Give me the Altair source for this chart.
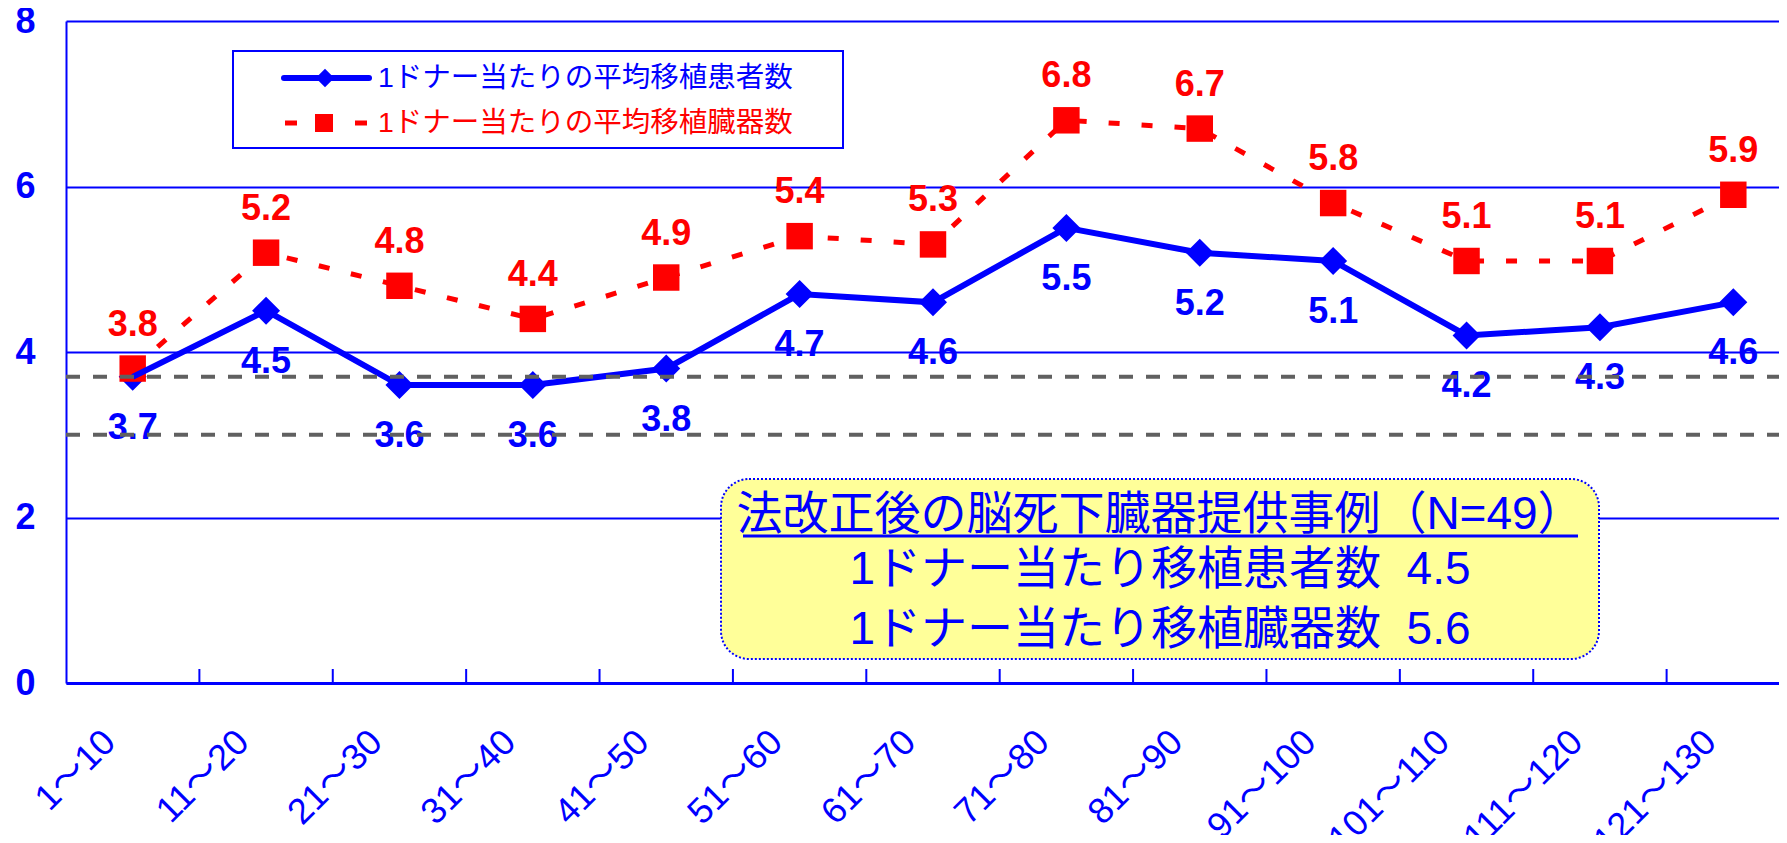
import altair as alt
import pandas as pd

# ---------------- data ----------------
categories = ["1～10", "11～20", "21～30", "31～40", "41～50", "51～60", "61～70",
              "71～80", "81～90", "91～100", "101～110", "111～120", "121～130"]
patients = [3.7, 4.5, 3.6, 3.6, 3.8, 4.7, 4.6, 5.5, 5.2, 5.1, 4.2, 4.3, 4.6]
organs = [3.8, 5.2, 4.8, 4.4, 4.9, 5.4, 5.3, 6.8, 6.7, 5.8, 5.1, 5.1, 5.9]
ref_values = [3.7, 3.0]
y_ticks = [0, 2, 4, 6, 8]
legend_labels = ["1ドナー当たりの平均移植患者数", "1ドナー当たりの平均移植臓器数"]
note_lines = ["法改正後の脳死下臓器提供事例（N=49）",
              "1ドナー当たり移植患者数\u00a0\u00a04.5",
              "1ドナー当たり移植臓器数\u00a0\u00a05.6"]

# ---------------- layout ----------------
W, H = 1713, 662
XR = 1734  # band range (plot is cut at the right edge like the reference)
BLUE = "#0000FF"
RED = "#FF0000"
GRAY = "#606060"
FONT = "Liberation Sans, Noto Sans CJK JP"

df = pd.DataFrame({"cat": categories, "patients": patients, "organs": organs})
ref_df = pd.DataFrame({"ref": ref_values})
tick_df = pd.DataFrame({"cat": categories[1:]})
one = pd.DataFrame({"a": [0]})

xscale = alt.Scale(domain=categories, range=[0, XR], paddingInner=0, paddingOuter=0, type="band")
yscale = alt.Scale(domain=[0, 8], nice=False)

x_axis = alt.Axis(title=None, labelAngle=-45, labelAlign="right", labelBaseline="middle",
                  labelFontSize=36, labelColor=BLUE, labelFont=FONT, ticks=False,
                  labelPadding=53, labelOffset=-23, domainColor=BLUE, domainWidth=3,
                  grid=False, labelOverlap=False, labelLimit=400)
y_axis = alt.Axis(title=None, values=y_ticks, format="d", labelFontSize=36, labelFontWeight="bold",
                  labelColor=BLUE, labelFont="Liberation Sans", ticks=False, labelPadding=31,
                  domainColor=BLUE, domainWidth=2, grid=True, gridColor=BLUE, gridWidth=2)


def X(band=0.5):
    return alt.X("cat:N", sort=categories, scale=xscale, axis=x_axis, bandPosition=band)


def Y(field):
    return alt.Y(field, type="quantitative", scale=yscale, axis=y_axis)


base = alt.Chart(df)

ticks_layer = alt.Chart(tick_df).mark_rule(color=BLUE, strokeWidth=2).encode(
    x=X(0), y=alt.value(H), y2=alt.value(H - 14))

blue_pts = base.mark_point(shape="diamond", filled=True, size=784, color=BLUE, opacity=1).encode(
    x=X(), y=Y("patients"))
red_line = base.mark_line(color=RED, strokeWidth=5, strokeDash=[11, 22]).encode(
    x=X(), y=Y("organs"))
red_pts = base.mark_point(shape="square", filled=True, size=700, color=RED, opacity=1).encode(
    x=X(), y=Y("organs"))
blue_line = base.mark_line(color=BLUE, strokeWidth=6).encode(
    x=X(), y=Y("patients"))

blue_txt = base.mark_text(dy=51, fontSize=36, fontWeight="bold", color=BLUE,
                          font="Liberation Sans").encode(
    x=X(), y=Y("patients"), text=alt.Text("patients:Q", format=".1f"))
red_txt = base.mark_text(dy=-44, fontSize=36, fontWeight="bold", color=RED,
                         font="Liberation Sans").encode(
    x=X(), y=Y("organs"), text=alt.Text("organs:Q", format=".1f"))

ref_rules = alt.Chart(ref_df).mark_rule(color=GRAY, strokeWidth=4, strokeDash=[14, 13]).encode(
    y=Y("ref"), x=alt.value(0), x2=alt.value(W))

# ---------------- legend (drawn) ----------------
leg_box = alt.Chart(one).mark_rect(fill="white", stroke=BLUE, strokeWidth=2).encode(
    x=alt.value(167), x2=alt.value(777), y=alt.value(30), y2=alt.value(127))
leg_l1 = alt.Chart(one).mark_rule(color=BLUE, strokeWidth=6, strokeCap="round").encode(
    x=alt.value(218), x2=alt.value(303), y=alt.value(57))
leg_p1 = alt.Chart(one).mark_point(shape="diamond", filled=True, size=340, color=BLUE, opacity=1).encode(
    x=alt.value(259), y=alt.value(57))
leg_d1 = alt.Chart(one).mark_rule(color=RED, strokeWidth=5).encode(
    x=alt.value(219), x2=alt.value(231), y=alt.value(102))
leg_d2 = alt.Chart(one).mark_rule(color=RED, strokeWidth=5).encode(
    x=alt.value(289), x2=alt.value(301), y=alt.value(102))
leg_p2 = alt.Chart(one).mark_point(shape="square", filled=True, size=324, color=RED, opacity=1).encode(
    x=alt.value(258), y=alt.value(102))
leg_t1 = alt.Chart(one).mark_text(text=legend_labels[0], align="left", baseline="middle",
                                  fontSize=28.5, color=BLUE, font=FONT).encode(
    x=alt.value(312), y=alt.value(57))
leg_t2 = alt.Chart(one).mark_text(text=legend_labels[1], align="left", baseline="middle",
                                  fontSize=28.5, color=RED, font=FONT).encode(
    x=alt.value(312), y=alt.value(102))

# ---------------- annotation box ----------------
note_box = alt.Chart(one).mark_rect(fill="#FFFF99", stroke=BLUE, strokeWidth=2,
                                    strokeDash=[2, 2], cornerRadius=28).encode(
    x=alt.value(655), x2=alt.value(1533), y=alt.value(458), y2=alt.value(638))
note_layers = []
for txt, yy in zip(note_lines, [494, 549, 609]):
    note_layers.append(alt.Chart(one).mark_text(text=txt, align="center", baseline="middle",
                                                fontSize=46, color=BLUE, font=FONT).encode(
        x=alt.value(1094), y=alt.value(yy)))
note_ul = alt.Chart(one).mark_rule(color=BLUE, strokeWidth=3).encode(
    x=alt.value(677), x2=alt.value(1512), y=alt.value(515))

chart = alt.layer(
    ticks_layer, note_box, *note_layers, note_ul,
    blue_pts, red_line, red_pts, blue_line,
    leg_box, leg_l1, leg_p1, leg_d1, leg_d2, leg_p2, leg_t1, leg_t2,
    blue_txt, red_txt, ref_rules,
).properties(
    width=W, height=H,
    autosize=alt.AutoSizeParams(type="none"),
    padding={"left": 58, "top": 13, "right": 0, "bottom": 152},
    background="white",
).configure_view(stroke=None)

chart.save("out.html", embed_options={"renderer": "svg", "actions": False})
